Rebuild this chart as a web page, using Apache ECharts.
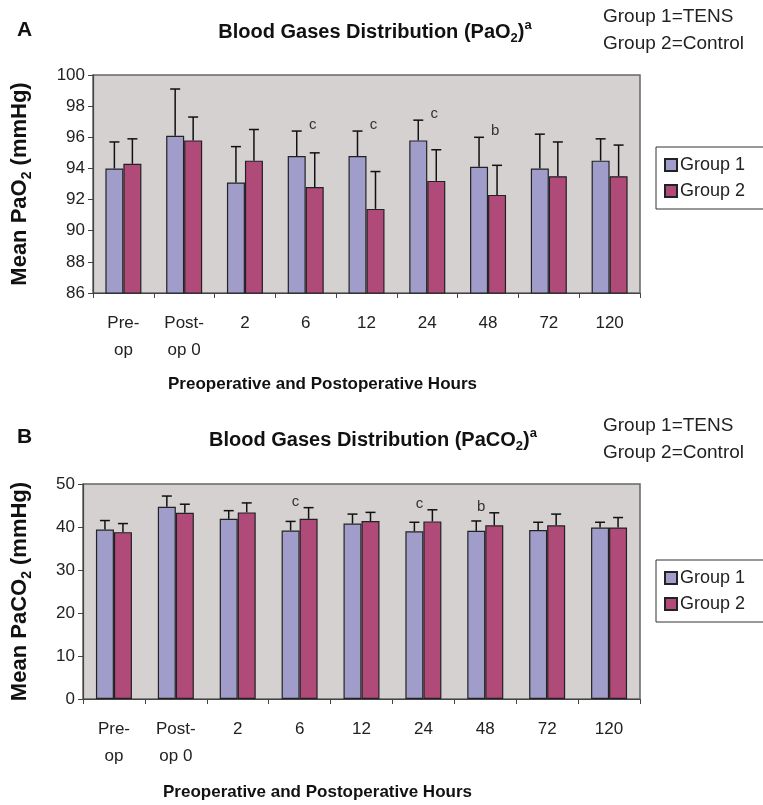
<!DOCTYPE html>
<html>
<head>
<meta charset="utf-8">
<script src="https://cdn.jsdelivr.net/npm/echarts@6/dist/echarts.min.js"></script>
<style>
  html, body { margin: 0; padding: 0; background: #fff; }
  #chart { width: 763px; height: 805px; }
</style>
</head>
<body>
<div id="chart"></div>
<script>
// 数据（从图上读出的均值和误差）
const categories = ['Pre-\nop', 'Post-\nop 0', '2', '6', '12', '24', '48', '72', '120'];

const pao2Group1 = [94.0, 96.1, 93.1, 94.8, 94.8, 95.8, 94.1, 94.0, 94.5];
const pao2Group1Err = [1.7, 3.0, 2.3, 1.6, 1.6, 1.3, 1.9, 2.2, 1.4];
const pao2Group2 = [94.3, 95.8, 94.5, 92.8, 91.4, 93.2, 92.3, 93.5, 93.5];
const pao2Group2Err = [1.6, 1.5, 2.0, 2.2, 2.4, 2.0, 1.9, 2.2, 2.0];

const paco2Group1 = [39.4, 44.7, 41.9, 39.2, 40.8, 39.0, 39.1, 39.3, 39.9];
const paco2Group1Err = [2.1, 2.5, 1.9, 2.1, 2.2, 2.1, 2.3, 1.8, 1.2];
const paco2Group2 = [38.8, 43.3, 43.4, 41.9, 41.4, 41.3, 40.4, 40.4, 39.9];
const paco2Group2Err = [2.0, 2.0, 2.2, 2.6, 2.0, 2.7, 2.9, 2.6, 2.3];

const pao2Marks = ['', '', '', 'c', 'c', 'c', 'b', '', ''];
const paco2Marks = ['', '', '', 'c', '', 'c', 'b', '', ''];

const FONT = 'Liberation Sans, Arial, Helvetica, sans-serif';
const COLOR1 = '#a19dca';
const COLOR2 = '#b04a78';
const BAR_W = 18;

let chart = echarts.init(document.getElementById('chart'));

// 误差线：只画向上的一半
function errSeries(name, means, errs, sign, axisIdx) {
    return {
        name: name,
        type: 'custom',
        xAxisIndex: axisIdx,
        yAxisIndex: axisIdx,
        z: 3,
        silent: true,
        data: means.map((m, i) => [i, m, m + errs[i]]),
        renderItem: function (params, api) {
            let p0 = api.coord([api.value(0), api.value(1)]);
            let p1 = api.coord([api.value(0), api.value(2)]);
            let x = p0[0] + sign * BAR_W / 2;
            let st = { stroke: '#111', lineWidth: 1.5 };
            return {
                type: 'group',
                children: [
                    { type: 'line', shape: { x1: x, y1: p0[1], x2: x, y2: p1[1] }, style: st },
                    { type: 'line', shape: { x1: x - 5, y1: p1[1], x2: x + 5, y2: p1[1] }, style: st }
                ]
            };
        }
    };
}

// 显著性字母
function markSeries(marks, topA, topB, axisIdx, dx) {
    return {
        type: 'custom',
        xAxisIndex: axisIdx,
        yAxisIndex: axisIdx,
        z: 4,
        silent: true,
        data: topA.map((v, i) => [i, Math.max(v, topB[i])]),
        renderItem: function (params, api) {
            let txt = marks[params.dataIndex];
            if (!txt) return null;
            let p = api.coord([api.value(0), api.value(1)]);
            return {
                type: 'text',
                x: p[0] + dx,
                y: p[1] - 6,
                style: { text: txt, font: '15px ' + FONT, fill: '#333', align: 'center', verticalAlign: 'middle' }
            };
        }
    };
}

function barSeries(name, values, color, axisIdx) {
    return {
        name: name,
        type: 'bar',
        xAxisIndex: axisIdx,
        yAxisIndex: axisIdx,
        barWidth: BAR_W,
        barGap: '0%',
        data: values,
        itemStyle: { color: color, borderColor: '#222', borderWidth: 1.2 }
    };
}

const richText = {
    b: { fontSize: 20, fontWeight: 'bold', fontFamily: FONT, color: '#111', lineHeight: 26 },
    s: { fontSize: 13, fontWeight: 'bold', fontFamily: FONT, color: '#111', lineHeight: 26, verticalAlign: 'bottom' },
    p: { fontSize: 13, fontWeight: 'bold', fontFamily: FONT, color: '#111', lineHeight: 26, verticalAlign: 'top' }
};

const yNameRich = {
    b: { fontSize: 22, fontWeight: 'bold', fontFamily: FONT, color: '#111', lineHeight: 28 },
    s: { fontSize: 14, fontWeight: 'bold', fontFamily: FONT, color: '#111', lineHeight: 28, verticalAlign: 'bottom' }
};

function xAxisCfg(gridIdx, gap) {
    return {
        type: 'category',
        gridIndex: gridIdx,
        data: categories,
        axisLine: { lineStyle: { color: '#444', width: 1.2 } },
        axisTick: { show: true, length: 5, lineStyle: { color: '#444' } },
        axisLabel: { fontSize: 17, fontFamily: FONT, color: '#222', margin: 17, lineHeight: 27, interval: 0 },
        name: 'Preoperative and Postoperative Hours',
        nameLocation: 'middle',
        nameGap: gap,
        nameTextStyle: { fontSize: 17, fontWeight: 'bold', fontFamily: FONT, color: '#111', padding: [0, 88, 0, 0] }
    };
}

function yAxisCfg(gridIdx, min, max, step, name, gap) {
    return {
        type: 'value',
        gridIndex: gridIdx,
        min: min,
        max: max,
        interval: step,
        axisLine: { show: true, lineStyle: { color: '#444', width: 1.2 } },
        axisTick: { show: true, length: 5, lineStyle: { color: '#444' } },
        splitLine: { show: false },
        axisLabel: { fontSize: 17, fontFamily: FONT, color: '#222', margin: 8 },
        name: name,
        nameLocation: 'middle',
        nameGap: gap,
        nameTextStyle: { rich: yNameRich }
    };
}

function legendCfg(top) {
    return {
        orient: 'vertical',
        left: 656,
        top: top,
        data: ['Group 1', 'Group 2'],
        icon: 'rect',
        itemWidth: 12,
        itemHeight: 12,
        itemGap: 8,
        padding: [9, 40, 9, 8],
        borderColor: '#333',
        borderWidth: 1,
        backgroundColor: '#fff',
        textStyle: { fontSize: 18, fontFamily: FONT, color: '#222', padding: [0, 0, 0, -2] }
    };
}

function noteText(top) {
    return [
        { type: 'text', left: 603, top: top, style: { text: 'Group 1=TENS', font: '19px ' + FONT, fill: '#222' } },
        { type: 'text', left: 603, top: top + 27, style: { text: 'Group 2=Control', font: '19px ' + FONT, fill: '#222' } }
    ];
}

let option = {
    backgroundColor: '#fff',
    animation: false,
    title: [
        { text: 'A', left: 12, top: 15, textStyle: { fontSize: 21, fontWeight: 'bold', fontFamily: FONT, color: '#111' } },
        { text: '{b|Blood Gases Distribution (PaO}{s|2}{b|)}{p|a}', left: 370, textAlign: 'center', top: 14, textStyle: { rich: richText } },
        { text: 'B', left: 12, top: 422, textStyle: { fontSize: 21, fontWeight: 'bold', fontFamily: FONT, color: '#111' } },
        { text: '{b|Blood Gases Distribution (PaCO}{s|2}{b|)}{p|a}', left: 368, textAlign: 'center', top: 422, textStyle: { rich: richText } }
    ],
    legend: [legendCfg(147), legendCfg(560)],
    graphic: noteText(7).concat(noteText(416)),
    grid: [
        { left: 93, top: 75, width: 547, height: 218, show: true, backgroundColor: '#d4d1d0', borderColor: '#666', borderWidth: 1.5 },
        { left: 83, top: 484, width: 557, height: 215, show: true, backgroundColor: '#d4d1d0', borderColor: '#666', borderWidth: 1.5 }
    ],
    xAxis: [xAxisCfg(0, 83), xAxisCfg(1, 85)],
    yAxis: [
        yAxisCfg(0, 86, 100, 2, '{b|Mean PaO}{s|2}{b| (mmHg)}', 59),
        yAxisCfg(1, 0, 50, 10, '{b|Mean PaCO}{s|2}{b| (mmHg)}', 49)
    ],
    series: [
        barSeries('Group 1', pao2Group1, COLOR1, 0),
        barSeries('Group 2', pao2Group2, COLOR2, 0),
        errSeries('Group 1', pao2Group1, pao2Group1Err, -1, 0),
        errSeries('Group 2', pao2Group2, pao2Group2Err, 1, 0),
        markSeries(pao2Marks, pao2Group1.map((v, i) => v + pao2Group1Err[i]), pao2Group2.map((v, i) => v + pao2Group2Err[i]), 0, 7),
        barSeries('Group 1', paco2Group1, COLOR1, 1),
        barSeries('Group 2', paco2Group2, COLOR2, 1),
        errSeries('Group 1', paco2Group1, paco2Group1Err, -1, 1),
        errSeries('Group 2', paco2Group2, paco2Group2Err, 1, 1),
        markSeries(paco2Marks, paco2Group1.map((v, i) => v + paco2Group1Err[i]), paco2Group2.map((v, i) => v + paco2Group2Err[i]), 1, -4)
    ]
};

chart.setOption(option);
</script>
</body>
</html>
